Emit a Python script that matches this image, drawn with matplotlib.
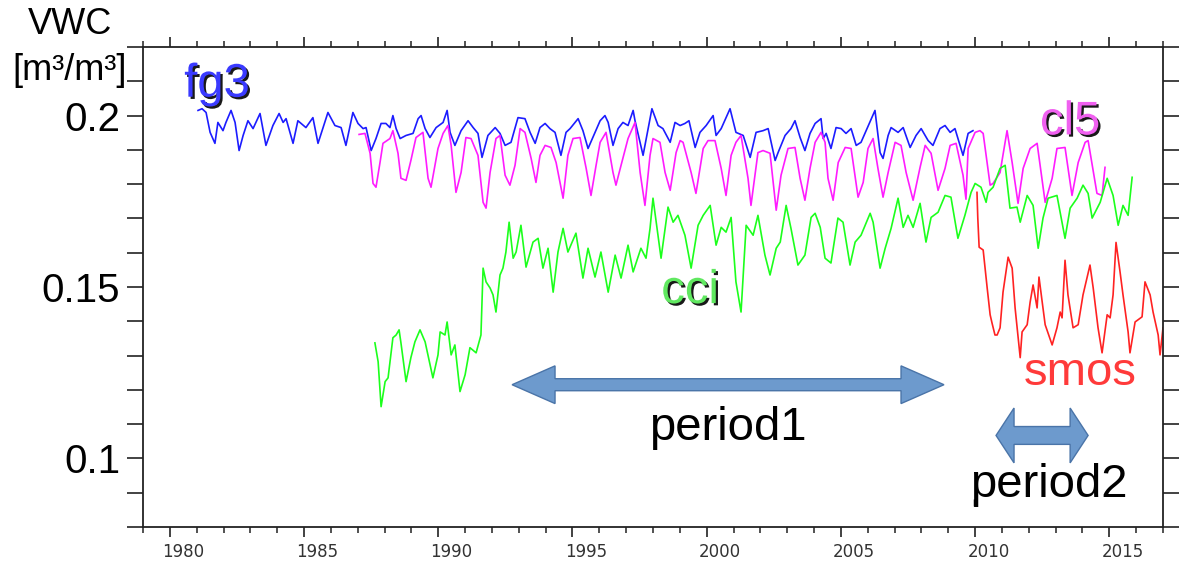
import matplotlib
matplotlib.use("Agg")
import matplotlib.pyplot as plt
import matplotlib.patheffects as pe
from matplotlib.ticker import FixedLocator, FixedFormatter, MultipleLocator
from matplotlib.patches import Polygon
from matplotlib.transforms import ScaledTranslation
import numpy as np

# ---------------- data ----------------
fg3_year = [1981.05, 1981.20, 1981.35, 1981.50, 1981.68, 1981.79, 1981.98, 1982.09, 1982.28, 1982.43,
            1982.58, 1982.73, 1982.91, 1983.10, 1983.36, 1983.58, 1983.84, 1984.07, 1984.22, 1984.33,
            1984.59, 1984.77, 1985.07, 1985.33, 1985.52, 1985.89, 1986.15, 1986.38, 1986.56, 1986.82,
            1987.01, 1987.20, 1987.31, 1987.50, 1987.68, 1987.87, 1988.05, 1988.20, 1988.31, 1988.43,
            1988.58, 1988.80, 1989.06, 1989.25, 1989.36, 1989.51, 1989.69, 1989.92, 1990.18, 1990.33,
            1990.44, 1990.62, 1990.85, 1991.11, 1991.30, 1991.48, 1991.63, 1991.85, 1992.12, 1992.30,
            1992.49, 1992.71, 1992.97, 1993.23, 1993.42, 1993.61, 1993.79, 1993.98, 1994.16, 1994.35,
            1994.57, 1994.76, 1994.91, 1995.21, 1995.39, 1995.58, 1995.84, 1996.03, 1996.21, 1996.33,
            1996.51, 1996.70, 1996.88, 1997.07, 1997.26, 1997.33, 1997.63, 1997.82, 1997.96, 1998.19,
            1998.37, 1998.64, 1998.82, 1999.01, 1999.19, 1999.34, 1999.57, 1999.75, 1999.98, 2000.24,
            2000.35, 2000.54, 2000.87, 2001.09, 2001.36, 2001.62, 2001.84, 2002.10, 2002.29, 2002.55,
            2002.66, 2002.92, 2003.14, 2003.29, 2003.48, 2003.66, 2003.85, 2004.04, 2004.26, 2004.34,
            2004.45, 2004.63, 2004.82, 2005.01, 2005.19, 2005.38, 2005.57, 2005.75, 2005.94, 2006.27,
            2006.46, 2006.57, 2006.76, 2006.87, 2007.13, 2007.32, 2007.58, 2007.80, 2007.99, 2008.25,
            2008.43, 2008.69, 2008.88, 2009.07, 2009.25, 2009.55, 2009.74, 2009.92]
fg3_vwc = [0.2015, 0.2020, 0.2009, 0.1951, 0.1919, 0.1980, 0.1956, 0.1980, 0.2015, 0.1980,
           0.1898, 0.1942, 0.1985, 0.1962, 0.2006, 0.1913, 0.1971, 0.2006, 0.1980, 0.1991,
           0.1919, 0.1985, 0.1965, 0.1994, 0.1919, 0.2009, 0.1971, 0.1965, 0.1913, 0.2009,
           0.1977, 0.1962, 0.1965, 0.1898, 0.1933, 0.1977, 0.1977, 0.1965, 0.2000, 0.1962,
           0.1933, 0.1942, 0.1948, 0.1991, 0.2000, 0.1962, 0.1936, 0.1965, 0.1980, 0.2015,
           0.1951, 0.1913, 0.1956, 0.1985, 0.1965, 0.1948, 0.1878, 0.1942, 0.1965, 0.1948,
           0.1913, 0.1922, 0.1994, 0.1991, 0.1951, 0.1919, 0.1965, 0.1977, 0.1962, 0.1951,
           0.1884, 0.1951, 0.1962, 0.1991, 0.1956, 0.1904, 0.1951, 0.1985, 0.2000, 0.1980,
           0.1913, 0.1962, 0.1980, 0.1971, 0.2015, 0.1985, 0.1884, 0.1962, 0.2020, 0.1971,
           0.1962, 0.1922, 0.1980, 0.1971, 0.1977, 0.1985, 0.1907, 0.1951, 0.1971, 0.2000,
           0.1942, 0.1962, 0.2020, 0.1951, 0.1942, 0.1878, 0.1951, 0.1956, 0.1962, 0.1869,
           0.1892, 0.1942, 0.1962, 0.1985, 0.1936, 0.1898, 0.1948, 0.1977, 0.1991, 0.1933,
           0.1948, 0.1904, 0.1965, 0.1962, 0.1948, 0.1962, 0.1913, 0.1922, 0.1956, 0.2015,
           0.1892, 0.1875, 0.1942, 0.1965, 0.1951, 0.1965, 0.1907, 0.1942, 0.1962, 0.1927,
           0.1913, 0.1962, 0.1971, 0.1951, 0.1962, 0.1884, 0.1948, 0.1956]

cl5_year = [1987.05, 1987.27, 1987.46, 1987.57, 1987.68, 1987.83, 1987.94, 1988.20, 1988.31, 1988.50,
            1988.61, 1988.80, 1988.98, 1989.17, 1989.43, 1989.62, 1989.73, 1989.99, 1990.18, 1990.36,
            1990.48, 1990.66, 1990.85, 1991.03, 1991.22, 1991.48, 1991.67, 1991.78, 1991.93, 1992.15,
            1992.30, 1992.49, 1992.67, 1992.86, 1993.05, 1993.23, 1993.46, 1993.64, 1993.79, 1993.98,
            1994.20, 1994.39, 1994.65, 1994.83, 1995.02, 1995.28, 1995.51, 1995.69, 1995.88, 1996.03,
            1996.25, 1996.51, 1996.62, 1996.81, 1997.07, 1997.33, 1997.52, 1997.70, 1997.89, 1998.00,
            1998.26, 1998.45, 1998.64, 1998.86, 1999.01, 1999.12, 1999.42, 1999.60, 1999.87, 2000.05,
            2000.31, 2000.54, 2000.72, 2000.91, 2001.09, 2001.28, 2001.54, 2001.65, 2001.91, 2002.10,
            2002.36, 2002.59, 2002.77, 2003.03, 2003.29, 2003.48, 2003.66, 2003.85, 2004.04, 2004.26,
            2004.41, 2004.52, 2004.71, 2004.90, 2005.16, 2005.38, 2005.64, 2005.83, 2006.01, 2006.20,
            2006.38, 2006.57, 2006.76, 2007.02, 2007.24, 2007.43, 2007.69, 2007.95, 2008.14, 2008.36,
            2008.62, 2008.88, 2009.07, 2009.29, 2009.55, 2009.66, 2009.74, 2010.00, 2010.18, 2010.30,
            2010.56, 2010.67, 2010.93, 2011.19, 2011.38, 2011.60, 2011.79, 2012.05, 2012.31, 2012.61,
            2012.87, 2013.05, 2013.35, 2013.61, 2013.84, 2014.10, 2014.21, 2014.54, 2014.73, 2014.84]
cl5_vwc = [0.1945, 0.1948, 0.1890, 0.1802, 0.1791, 0.1863, 0.1919, 0.1933, 0.1956, 0.1890,
           0.1817, 0.1811, 0.1869, 0.1936, 0.1951, 0.1817, 0.1791, 0.1904, 0.1948, 0.1971,
           0.1913, 0.1776, 0.1834, 0.1936, 0.1933, 0.1884, 0.1747, 0.1730, 0.1834, 0.1933,
           0.1942, 0.1826, 0.1797, 0.1855, 0.1962, 0.1951, 0.1875, 0.1805, 0.1884, 0.1913,
           0.1907, 0.1863, 0.1759, 0.1884, 0.1933, 0.1936, 0.1846, 0.1767, 0.1855, 0.1922,
           0.1951, 0.1834, 0.1797, 0.1855, 0.1933, 0.1980, 0.1834, 0.1738, 0.1884, 0.1933,
           0.1922, 0.1834, 0.1782, 0.1892, 0.1927, 0.1922, 0.1834, 0.1773, 0.1904, 0.1927,
           0.1927, 0.1846, 0.1767, 0.1884, 0.1922, 0.1942, 0.1817, 0.1738, 0.1892, 0.1898,
           0.1890, 0.1724, 0.1826, 0.1904, 0.1907, 0.1817, 0.1753, 0.1846, 0.1922, 0.1951,
           0.1922, 0.1817, 0.1753, 0.1863, 0.1907, 0.1904, 0.1762, 0.1805, 0.1904, 0.1933,
           0.1846, 0.1762, 0.1834, 0.1922, 0.1913, 0.1834, 0.1753, 0.1849, 0.1913, 0.1890,
           0.1782, 0.1846, 0.1913, 0.1919, 0.1826, 0.1756, 0.1904, 0.1951, 0.1956, 0.1948,
           0.1797, 0.1802, 0.1834, 0.1956, 0.1863, 0.1744, 0.1846, 0.1904, 0.1919, 0.1747,
           0.1817, 0.1904, 0.1907, 0.1767, 0.1863, 0.1922, 0.1927, 0.1773, 0.1767, 0.1849]

cci_year = [1987.64, 1987.76, 1987.87, 1988.02, 1988.13, 1988.31, 1988.43, 1988.54, 1988.61, 1988.80,
            1988.98, 1989.13, 1989.32, 1989.51, 1989.80, 1989.99, 1990.07, 1990.25, 1990.33, 1990.48,
            1990.62, 1990.81, 1991.00, 1991.18, 1991.41, 1991.59, 1991.67, 1991.78, 1991.93, 1992.04,
            1992.15, 1992.30, 1992.41, 1992.52, 1992.64, 1992.79, 1992.90, 1993.08, 1993.27, 1993.53,
            1993.72, 1993.90, 1994.09, 1994.28, 1994.46, 1994.65, 1994.83, 1995.13, 1995.39, 1995.58,
            1995.84, 1996.06, 1996.33, 1996.59, 1996.81, 1997.07, 1997.26, 1997.55, 1997.74, 1997.89,
            1998.00, 1998.30, 1998.56, 1998.75, 1998.93, 1999.19, 1999.42, 1999.68, 1999.87, 2000.13,
            2000.35, 2000.54, 2000.72, 2000.91, 2001.09, 2001.28, 2001.47, 2001.73, 2001.91, 2002.17,
            2002.36, 2002.59, 2002.74, 2002.96, 2003.14, 2003.40, 2003.66, 2003.89, 2004.04, 2004.23,
            2004.41, 2004.63, 2004.89, 2005.08, 2005.34, 2005.53, 2005.75, 2006.09, 2006.20, 2006.46,
            2006.65, 2006.87, 2007.13, 2007.32, 2007.50, 2007.69, 2007.95, 2008.17, 2008.36, 2008.62,
            2008.88, 2009.10, 2009.36, 2009.62, 2009.85, 2010.00, 2010.22, 2010.41, 2010.48, 2010.67,
            2010.93, 2011.12, 2011.30, 2011.56, 2011.68, 2011.94, 2012.16, 2012.35, 2012.53, 2012.72,
            2013.05, 2013.35, 2013.54, 2013.80, 2014.02, 2014.21, 2014.36, 2014.66, 2014.92, 2015.14,
            2015.33, 2015.51, 2015.70, 2015.85]
cci_vwc = [0.1337, 0.1282, 0.1151, 0.1224, 0.1235, 0.1352, 0.1360, 0.1375, 0.1337, 0.1224,
           0.1294, 0.1340, 0.1375, 0.1340, 0.1235, 0.1302, 0.1369, 0.1360, 0.1398, 0.1302,
           0.1331, 0.1195, 0.1244, 0.1323, 0.1308, 0.1360, 0.1555, 0.1515, 0.1497, 0.1477,
           0.1427, 0.1535, 0.1555, 0.1602, 0.1689, 0.1584, 0.1602, 0.1680, 0.1558, 0.1631,
           0.1642, 0.1555, 0.1613, 0.1485, 0.1602, 0.1671, 0.1602, 0.1657, 0.1526, 0.1613,
           0.1529, 0.1602, 0.1485, 0.1593, 0.1526, 0.1622, 0.1544, 0.1613, 0.1584, 0.1671,
           0.1759, 0.1584, 0.1733, 0.1689, 0.1709, 0.1651, 0.1555, 0.1680, 0.1709, 0.1738,
           0.1622, 0.1674, 0.1660, 0.1703, 0.1515, 0.1427, 0.1680, 0.1651, 0.1709, 0.1593,
           0.1535, 0.1613, 0.1631, 0.1738, 0.1671, 0.1564, 0.1593, 0.1703, 0.1715, 0.1674,
           0.1584, 0.1570, 0.1701, 0.1689, 0.1564, 0.1631, 0.1651, 0.1715, 0.1689, 0.1555,
           0.1613, 0.1671, 0.1759, 0.1674, 0.1709, 0.1674, 0.1744, 0.1631, 0.1703, 0.1718,
           0.1767, 0.1762, 0.1642, 0.1709, 0.1776, 0.1802, 0.1791, 0.1747, 0.1776, 0.1791,
           0.1846, 0.1855, 0.1730, 0.1733, 0.1689, 0.1767, 0.1738, 0.1613, 0.1701, 0.1759,
           0.1767, 0.1642, 0.1730, 0.1759, 0.1797, 0.1773, 0.1701, 0.1747, 0.1817, 0.1767,
           0.1680, 0.1738, 0.1709, 0.1820]

smos_year = [2010.07, 2010.10, 2010.15, 2010.30, 2010.45, 2010.56, 2010.63, 2010.74, 2010.82, 2010.93,
             2011.04, 2011.23, 2011.38, 2011.49, 2011.68, 2011.75, 2011.94, 2012.05, 2012.16, 2012.31,
             2012.38, 2012.50, 2012.61, 2012.87, 2013.05, 2013.17, 2013.24, 2013.35, 2013.46, 2013.65,
             2013.84, 2014.02, 2014.28, 2014.40, 2014.58, 2014.73, 2014.92, 2015.03, 2015.14, 2015.25,
             2015.40, 2015.51, 2015.70, 2015.77, 2015.96, 2016.22, 2016.33, 2016.52, 2016.63, 2016.82,
             2016.89, 2017.00]
smos_vwc = [0.1776, 0.1701, 0.1616, 0.1608, 0.1497, 0.1419, 0.1395, 0.1360, 0.1360, 0.1381,
            0.1485, 0.1587, 0.1555, 0.1439, 0.1294, 0.1369, 0.1390, 0.1456, 0.1506, 0.1439,
            0.1529, 0.1456, 0.1390, 0.1331, 0.1381, 0.1427, 0.1410, 0.1578, 0.1477, 0.1381,
            0.1390, 0.1477, 0.1564, 0.1497, 0.1381, 0.1308, 0.1419, 0.1410, 0.1477, 0.1630,
            0.1544, 0.1477, 0.1369, 0.1308, 0.1398, 0.1413, 0.1515, 0.1477, 0.1427, 0.1360,
            0.1302, 0.1381]

ytick_vals = [0.1, 0.15, 0.2]
ytick_labels = ["0.1", "0.15", "0.2"]
xtick_years = [1980, 1985, 1990, 1995, 2000, 2005, 2010, 2015]
xtick_labels = [str(y) for y in xtick_years]

# periods (start, end) in years for the arrows
period1 = (1992.75, 2008.84)
period2 = (2010.78, 2014.21)

# ---------------- figure ----------------
W, H = 1188, 565
fig = plt.figure(figsize=(W / 100, H / 100), dpi=100)
ax = fig.add_axes([143 / W, 1 - 527 / H, 1020 / W, 480 / H])
ax.set_xlim(1979, 2017)
ax.set_ylim(0.08, 0.22)

lw = 1.2
ax.plot(fg3_year, fg3_vwc, color="#1c1cff", lw=lw)
ax.plot(cl5_year, cl5_vwc, color="#ff1cff", lw=lw)
ax.plot(cci_year, cci_vwc, color="#1cff1c", lw=lw)
ax.plot(smos_year, smos_vwc, color="#ff2222", lw=lw)

# spines / ticks
for s in ax.spines.values():
    s.set_color("#222222")
    s.set_linewidth(1.3)

ax.yaxis.set_major_locator(FixedLocator(ytick_vals))
ax.yaxis.set_major_formatter(FixedFormatter(ytick_labels))
ax.yaxis.set_minor_locator(FixedLocator(list(np.round(np.arange(0.08, 0.2201, 0.01), 2))))
ax.tick_params(axis="y", which="both", direction="out", length=11.5, width=1.2,
               color="#222222", left=True, right=True, pad=5, labelsize=29)
for lab in ax.get_yticklabels():
    lab.set_fontfamily("Liberation Sans")

ax.xaxis.set_major_locator(FixedLocator(xtick_years))
ax.xaxis.set_major_formatter(FixedFormatter(xtick_labels))
ax.xaxis.set_minor_locator(MultipleLocator(1))
ax.tick_params(axis="x", which="major", direction="out", length=7.5, width=1.2,
               color="#222222", top=True, bottom=True, pad=4, labelsize=12, labelcolor="#333333")
ax.tick_params(axis="x", which="minor", direction="out", length=4, width=1.1,
               color="#222222", top=True, bottom=True)
shift = ScaledTranslation(13.4 / 100, 0, fig.dpi_scale_trans)
for lab in ax.get_xticklabels():
    lab.set_transform(lab.get_transform() + shift)
    lab.set_fontfamily("DejaVu Sans")

# small mark at 2010 above the bottom axis
ax.plot([2010, 2010], [0.0862, 0.0882], color="black", lw=2.5, solid_capstyle="butt")

# axis title
fig.text(70 / W, 1 - 24 / H, "VWC", ha="center", va="center", fontsize=26,
         family="Liberation Sans")
fig.text(70 / W, 1 - 71 / H, "[m³/m³]", ha="center", va="center", fontsize=26,
         family="Liberation Sans")

# series labels
shadow = [pe.withSimplePatchShadow(offset=(1.6, -1.6), shadow_rgbFace="black", alpha=0.9)]
ax.text(1981.76, 0.2055, "fg3", color="#3a3aff", fontsize=34, ha="center", va="baseline",
        family="Liberation Sans", path_effects=shadow)
ax.text(2013.54, 0.1945, "cl5", color="#f060f0", fontsize=34, ha="center", va="baseline",
        family="Liberation Sans", path_effects=shadow)
ax.text(1999.38, 0.1453, "cci", color="#60e860", fontsize=34, ha="center", va="baseline",
        family="Liberation Sans", path_effects=shadow)
ax.text(2013.91, 0.1215, "smos", color="#ff3a3a", fontsize=34, ha="center", va="baseline",
        family="Liberation Sans")

# double arrows for the periods
def double_arrow(x0, x1, yc, hw, sw, hl):
    verts = [(x0, yc), (x0 + hl, yc + hw), (x0 + hl, yc + sw), (x1 - hl, yc + sw),
             (x1 - hl, yc + hw), (x1, yc), (x1 - hl, yc - hw), (x1 - hl, yc - sw),
             (x0 + hl, yc - sw), (x0 + hl, yc - hw)]
    ax.add_patch(Polygon(verts, closed=True, facecolor="#6d9acd", edgecolor="#4a74a8",
                         lw=1.0, zorder=5))

double_arrow(period1[0], period1[1], 0.1215, 0.0055, 0.00175, 1.60)
double_arrow(period2[0], period2[1], 0.1067, 0.0080, 0.0026, 0.67)

ax.text((period1[0] + period1[1]) / 2, 0.1055, "period1", fontsize=34, ha="center",
        va="baseline", family="Liberation Sans", color="black")
ax.text((period2[0] + period2[1]) / 2 + 0.25, 0.0887, "period2", fontsize=34, ha="center",
        va="baseline", family="Liberation Sans", color="black")

fig.savefig("out.png", dpi=100)
